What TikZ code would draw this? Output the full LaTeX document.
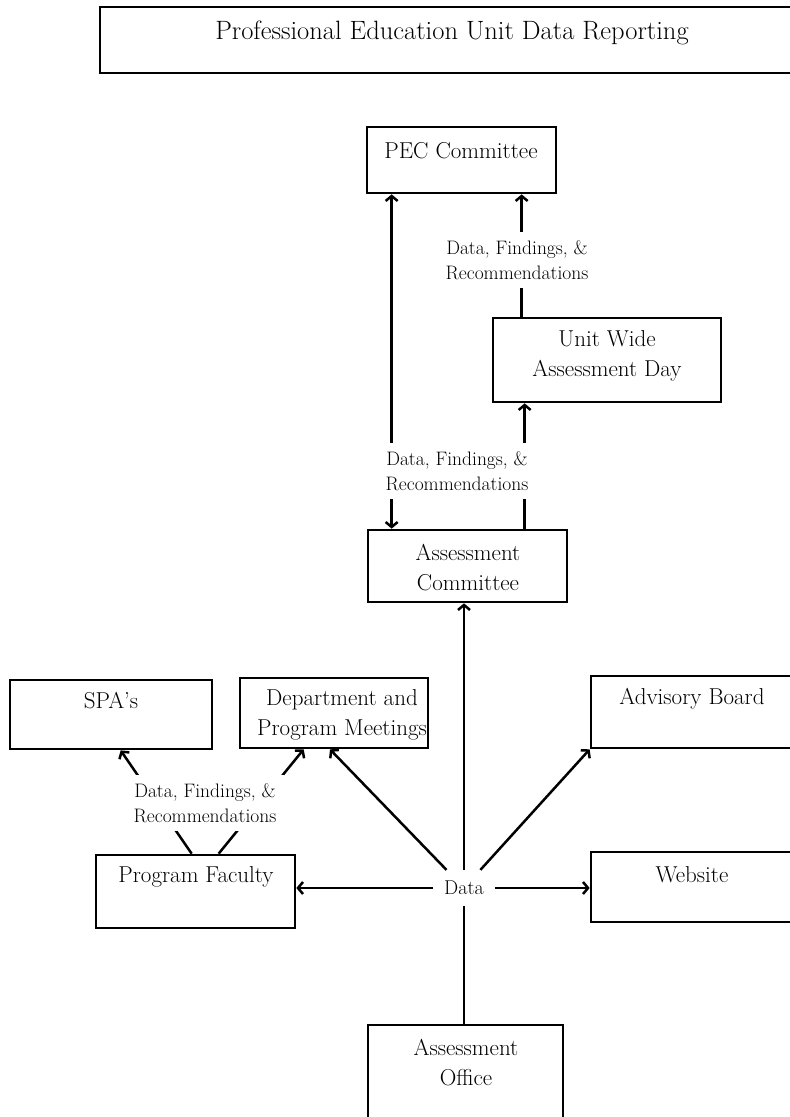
\documentclass[tikz,border=0pt]{standalone}
\usetikzlibrary{arrows.meta}
\tikzset{
  box/.style={draw, rectangle, line width=2.7pt, inner sep=0pt},
  boxtext/.style={font=\fontsize{23}{30}\selectfont, align=center, inner sep=0pt},
  flowlabel/.style={fill=white, font=\fontsize{19.5}{25}\selectfont, align=center, inner sep=8pt},
  flow/.style={line width=2.5pt, -{Straight Barb[length=5pt, width=12pt]}}
}

\begin{document}
\begin{tikzpicture}[x=1pt, y=-1pt]
  \useasboundingbox (0,0) rectangle (790,1117);
  \clip (0,0) rectangle (790,1117);
  % title
  \node[box, minimum width=700, minimum height=66] (title) at (450,40) {};
  \node[boxtext, font=\fontsize{26.5}{30}\selectfont] (titletext) at (452,33) {Professional Education Unit Data Reporting};
  % upper boxes
  \node[box, minimum width=189, minimum height=66] (pec) at (461.5,160) {};
  \node[boxtext] (pectext) at (461,151) {PEC Committee};
  \node[box, minimum width=228, minimum height=84] (uwd) at (607,360) {};
  \node[boxtext] (uwdtext) at (607,356) {Unit Wide\\Assessment Day};
  \node[box, minimum width=199, minimum height=72] (ac) at (467.5,566) {};
  \node[boxtext] (actext) at (468,568) {Assessment\\Committee};
  % lower boxes
  \node[box, minimum width=202, minimum height=69] (spa) at (111,714.5) {};
  \node[boxtext] (spatext) at (111,701) {SPA’s};
  \node[box, minimum width=188, minimum height=70] (dept) at (334,713) {};
  \node[boxtext] (depttext) at (342,715) {Department and\\Program Meetings};
  \node[box, minimum width=209, minimum height=72] (adv) at (695.5,712) {};
  \node[boxtext] (advtext) at (692,699) {Advisory Board};
  \node[box, minimum width=209, minimum height=70] (web) at (695.5,887) {};
  \node[boxtext] (webtext) at (692,875) {Website};
  \node[box, minimum width=199, minimum height=73] (pf) at (195.5,891.5) {};
  \node[boxtext] (pftext) at (196,877) {Program Faculty};
  \node[box, minimum width=195, minimum height=105] (ao) at (465.5,1077.5) {};
  \node[boxtext] (aotext) at (466,1063) {Assessment\\Office};
  % data hub
  \node[font=\fontsize{20}{25}\selectfont, inner sep=11pt] (data) at (464,888) {Data};
  \draw[line width=2.5pt] (ao.north -| data) -- (data);
  \draw[flow] (data) -- (data |- ac.south);
  \draw[flow] (data) -- (data -| pf.east);
  \draw[flow] (data) -- (data -| web.west);
  \draw[flow] (data) -- ([xshift=-4]dept.south);
  \draw[flow] (data) -- (adv.south west);
  % reporting up
  \draw[flow, {Straight Barb[length=5pt, width=12pt]}-{Straight Barb[length=5pt, width=12pt]}] ([xshift=25]ac.north west) -- ([xshift=26]pec.south west);
  \draw[flow] ([xshift=158]ac.north west) -- ([xshift=33]uwd.south west);
  \draw[flow] ([xshift=30]uwd.north west) -- ([xshift=156]pec.south west);
  % program faculty
  \draw[flow] ([xshift=97]pf.north west) -- ([xshift=112]spa.south west);
  \draw[flow] ([xshift=124]pf.north west) -- ([xshift=65]dept.south west);
  % labels over the lines
  \node[flowlabel] (lab1) at (517,260) {Data, Findings, \&\\Recommendations};
  \node[flowlabel] (lab2) at (457,471) {Data, Findings, \&\\Recommendations};
  \node[flowlabel] (lab3) at (205,803) {Data, Findings, \&\\Recommendations};
\end{tikzpicture}
\end{document}
